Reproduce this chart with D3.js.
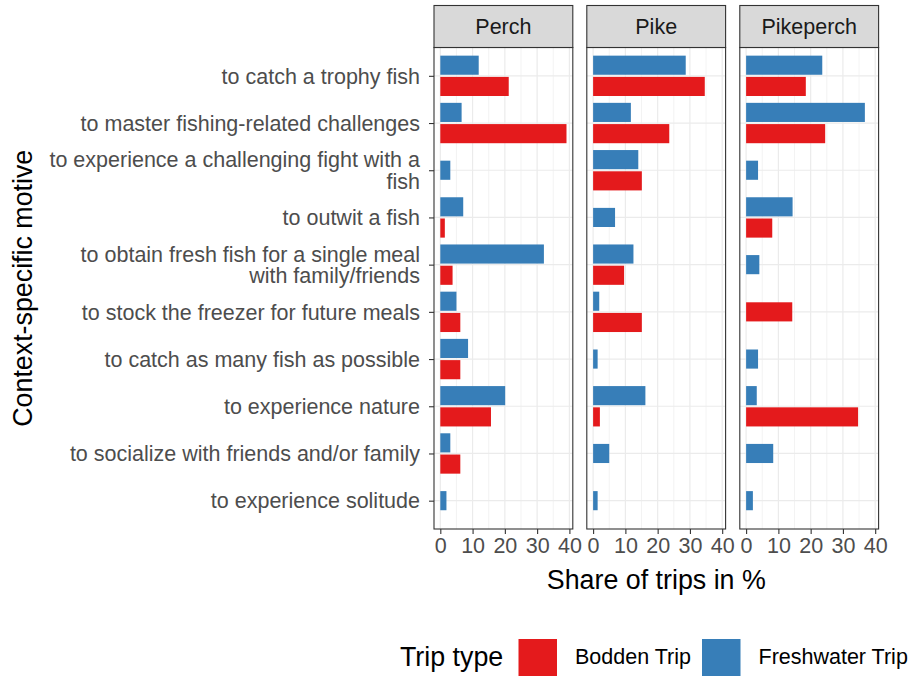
<!DOCTYPE html>
<html>
<head>
<meta charset="utf-8">
<script src="https://cdn.jsdelivr.net/npm/d3@7"></script>
<style>
  html, body { margin: 0; padding: 0; background: #fff; }
  svg text { font-family: "Liberation Sans", Arial, Helvetica, sans-serif; }
</style>
</head>
<body>
<svg id="chart" width="912" height="676"></svg>
<script>
// ---------- DATA ----------
const motives = [
  "to catch a trophy fish",
  "to master fishing-related challenges",
  "to experience a challenging fight with a\nfish",
  "to outwit a fish",
  "to obtain fresh fish for a single meal\nwith family/friends",
  "to stock the freezer for future meals",
  "to catch as many fish as possible",
  "to experience nature",
  "to socialize with friends and/or family",
  "to experience solitude"
];
const species = ["Perch", "Pike", "Pikeperch"];
const tripTypes = ["Bodden Trip", "Freshwater Trip"];
const xTicks = [0, 10, 20, 30, 40];
const xMinorTicks = [5, 15, 25, 35];

const perchBodden     = [21.2, 39.1, null, 1.4, 3.8, 6.2, 6.2, 15.7, 6.2, null];
const perchFresh      = [11.9, 6.6, 3.1, 7.1, 32.1, 5.0, 8.6, 20.1, 3.1, 1.9];
const pikeBodden      = [34.6, 23.6, 15.1, null, 9.6, 15.1, null, 2.1, null, null];
const pikeFresh       = [28.7, 11.7, 14.0, 6.8, 12.5, 1.9, 1.4, 16.2, 5.0, 1.4];
const pikeperchBodden = [18.5, 24.5, null, 8.1, null, 14.3, null, 34.7, null, null];
const pikeperchFresh  = [23.6, 36.8, 3.7, 14.4, 4.1, null, 3.7, 3.3, 8.4, 2.1];

const boddenBySpecies = [perchBodden, pikeBodden, pikeperchBodden];
const freshBySpecies = [perchFresh, pikeFresh, pikeperchFresh];

const colors = { "Bodden Trip": "#E41A1C", "Freshwater Trip": "#377EB8" };

// ---------- LAYOUT ----------
const svg = d3.select("#chart");
const panelLefts = [434, 586.8, 739.8];
const panelW = 138.8;
const panelTop = 47.5, panelBottom = 529;
const stripTop = 5.5;
const textSize = 21.5, titleSize = 26.8;
const grey30 = "#4D4D4D", grey20 = "#333333";

const allVals = boddenBySpecies.concat(freshBySpecies).flat().filter(v => v != null);
const maxV = d3.max(allVals);
const x = d3.scaleLinear().domain([-0.05 * maxV, 1.05 * maxV]).range([0, panelW]);
const y = d3.scalePoint().domain(motives).range([panelTop, panelBottom]).padding(0.6);
const step = y.step();
const slot = 0.45 * step;
const barH = slot * 0.9;

species.forEach((sp, si) => {
  const g = svg.append("g").attr("transform", `translate(${panelLefts[si]},0)`);
  // panel background
  g.append("rect").attr("x", 0).attr("y", panelTop).attr("width", panelW)
    .attr("height", panelBottom - panelTop).attr("fill", "#fff");
  // minor grid
  g.selectAll(".minor").data(xMinorTicks).join("line")
    .attr("x1", d => x(d)).attr("x2", d => x(d))
    .attr("y1", panelTop).attr("y2", panelBottom)
    .attr("stroke", "#EBEBEB").attr("stroke-width", 0.6);
  // major grid
  g.selectAll(".majorx").data(xTicks).join("line")
    .attr("x1", d => x(d)).attr("x2", d => x(d))
    .attr("y1", panelTop).attr("y2", panelBottom)
    .attr("stroke", "#EBEBEB").attr("stroke-width", 1.2);
  g.selectAll(".majory").data(motives).join("line")
    .attr("x1", 0).attr("x2", panelW)
    .attr("y1", d => y(d)).attr("y2", d => y(d))
    .attr("stroke", "#EBEBEB").attr("stroke-width", 1.2);

  // bars
  const rows = motives.map((m, i) => ({
    m, b: boddenBySpecies[si][i], f: freshBySpecies[si][i]
  }));
  const bars = [];
  rows.forEach(r => {
    const c = y(r.m);
    const both = r.b != null && r.f != null;
    if (r.f != null) bars.push({ type: "Freshwater Trip", v: r.f, cy: both ? c - slot / 2 : c });
    if (r.b != null) bars.push({ type: "Bodden Trip", v: r.b, cy: both ? c + slot / 2 : c });
  });
  g.selectAll(".bar").data(bars).join("rect")
    .attr("x", x(0)).attr("y", d => d.cy - barH / 2)
    .attr("width", d => x(d.v) - x(0)).attr("height", barH)
    .attr("fill", d => colors[d.type]);

  // panel border
  g.append("rect").attr("x", 0).attr("y", panelTop).attr("width", panelW)
    .attr("height", panelBottom - panelTop).attr("fill", "none")
    .attr("stroke", grey20).attr("stroke-width", 1.1);
  // strip
  g.append("rect").attr("x", 0).attr("y", stripTop).attr("width", panelW)
    .attr("height", panelTop - stripTop).attr("fill", "#D9D9D9")
    .attr("stroke", grey20).attr("stroke-width", 1.1);
  g.append("text").attr("x", panelW / 2).attr("y", (stripTop + panelTop) / 2 + 7.6)
    .attr("text-anchor", "middle").attr("font-size", textSize).attr("fill", "#1A1A1A")
    .text(sp);

  // x axis
  const xa = g.append("g").attr("transform", `translate(0,${panelBottom})`)
    .call(d3.axisBottom(x).tickValues(xTicks).tickSize(5).tickPadding(4).tickSizeOuter(0));
  xa.select(".domain").remove();
  xa.selectAll(".tick line").attr("stroke", grey20).attr("stroke-width", 1.1);
  xa.selectAll(".tick text").attr("font-size", textSize).attr("fill", grey30)
    .attr("font-family", "'Liberation Sans', Arial, sans-serif");

  if (si === 0) {
    const ya = g.append("g").call(d3.axisLeft(y).tickSize(5).tickFormat(""));
    ya.select(".domain").remove();
    ya.selectAll(".tick line").attr("stroke", grey20).attr("stroke-width", 1.1);
    // labels (multi-line, right aligned)
    const lab = g.selectAll(".ylab").data(motives).join("text")
      .attr("text-anchor", "end").attr("font-size", textSize).attr("fill", grey30)
      .attr("transform", d => `translate(-14,${y(d)})`);
    lab.each(function (d) {
      const lines = d.split("\n");
      const lh = 21.6;
      const sel = d3.select(this);
      lines.forEach((ln, li) => {
        sel.append("tspan").attr("x", 0)
          .attr("y", 7.7 + (li - (lines.length - 1) / 2) * lh)
          .text(ln);
      });
    });
  }
});

// axis titles
const xCenter = (panelLefts[0] + panelLefts[2] + panelW) / 2;
svg.append("text").attr("x", xCenter).attr("y", 588.5).attr("text-anchor", "middle")
  .attr("font-size", titleSize).attr("fill", "#000").text("Share of trips in %");
svg.append("text").attr("transform", `translate(31.5,${(panelTop + panelBottom) / 2}) rotate(-90)`)
  .attr("text-anchor", "middle").attr("font-size", titleSize).attr("fill", "#000")
  .text("Context-specific motive");

// legend
const lg = svg.append("g");
lg.append("text").attr("x", 400).attr("y", 666).attr("font-size", titleSize).attr("fill", "#000")
  .text("Trip type");
const keyX = [518.5, 702];
const keySize = 38.5;
tripTypes.forEach((t, i) => {
  lg.append("rect").attr("x", keyX[i]).attr("y", 639).attr("width", keySize).attr("height", keySize + 4)
    .attr("fill", colors[t]);
  lg.append("text").attr("x", keyX[i] + keySize + 18).attr("y", 664)
    .attr("font-size", textSize).attr("fill", "#000").text(t);
});
</script>
</body>
</html>
